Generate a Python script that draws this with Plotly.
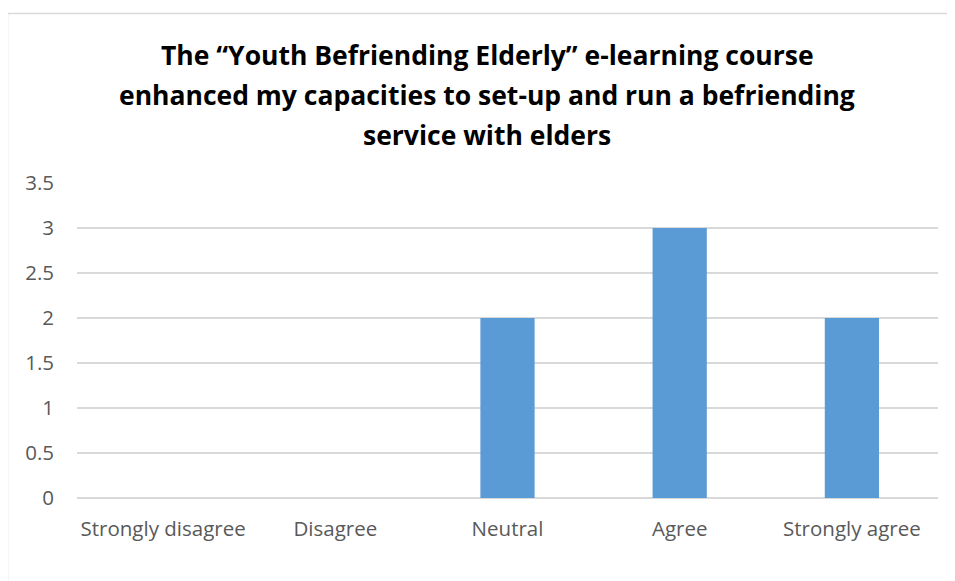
import plotly.graph_objects as go

categories = ["Strongly disagree", "Disagree", "Neutral", "Agree", "Strongly agree"]
values = [0, 0, 2, 3, 2]
y_ticks = [0, 0.5, 1, 1.5, 2, 2.5, 3, 3.5]
y_tick_labels = ["0", "0.5", "1", "1.5", "2", "2.5", "3", "3.5"]
title_lines = [
    "The \u201cYouth Befriending Elderly\u201d e-learning course",
    "enhanced my capacities to set-up and run a befriending",
    "service with elders",
]

OFF = 8  # page body margin
W, H = 955 - OFF, 581 - OFF
L, T = 77 - OFF, 183 - OFF
R = W - (938 - OFF)
B = H - (498 - OFF)
plot_h = H - T - B
plot_w = W - L - R

def py(p):  # page pixel y -> paper y
    return ((498 - OFF) - (p - OFF)) / plot_h

def pxx(p):  # page pixel x -> paper x
    return ((p - OFF) - L) / plot_w

FONT = "Open Sans"

fig = go.Figure(go.Bar(
    x=categories, y=values,
    marker=dict(color="#5b9bd5", line=dict(width=0)),
    width=0.315,
))

annotations = []
for i, line in enumerate(title_lines):
    annotations.append(dict(
        text="<b>%s</b>" % line, xref="paper", yref="paper",
        x=pxx(487), y=py(55 + 40 * i),
        xanchor="center", yanchor="middle", showarrow=False,
        font=dict(family=FONT, size=26.5, color="#000000"),
    ))

fig.update_layout(
    width=W, height=H,
    margin=dict(l=L, r=R, t=T, b=B, pad=0),
    paper_bgcolor="white", plot_bgcolor="white",
    showlegend=False,
    annotations=annotations,
    shapes=[dict(type="rect", xref="paper", yref="paper",
                 x0=pxx(7.5), x1=pxx(1000), y0=py(640), y1=py(13.5),
                 line=dict(color="#d9d9d9", width=1.5), fillcolor="rgba(0,0,0,0)", layer="below")],
    xaxis=dict(showgrid=False, showline=False, zeroline=False, ticks="",
               tickfont=dict(family=FONT, size=20.5, color="#595959"),
               ticklabelstandoff=16),
    yaxis=dict(range=[0, 3.5], tickvals=y_ticks, ticktext=y_tick_labels,
               showgrid=True, gridcolor="#d9d9d9", gridwidth=1.5,
               zeroline=True, zerolinecolor="#d9d9d9", zerolinewidth=1.5,
               showline=False, ticks="",
               tickfont=dict(family=FONT, size=20.5, color="#595959"),
               ticklabelstandoff=22),
    bargap=0.685,
)

fig.write_html("out.html")
